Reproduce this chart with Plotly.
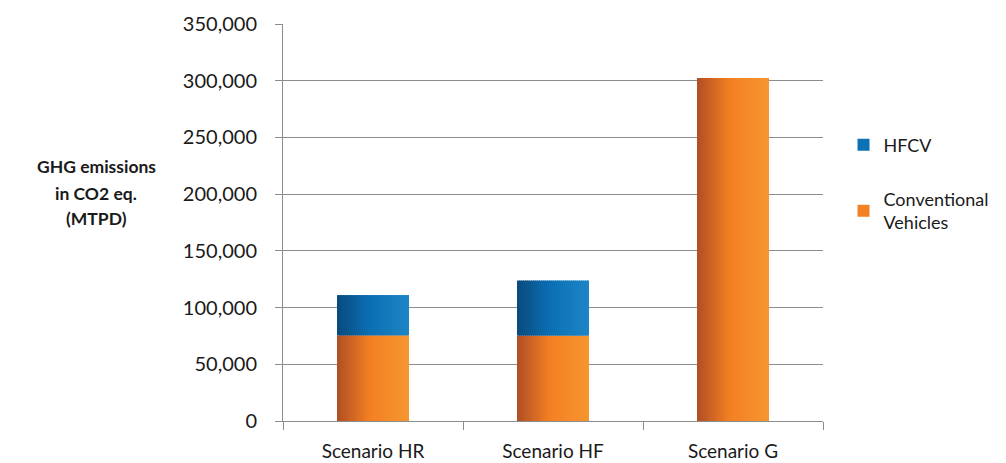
import plotly.graph_objects as go

categories = ["Scenario HR", "Scenario HF", "Scenario G"]
conventional = [75500, 75300, 302500]
hfcv = [35500, 48500, 0]
y_tick_values = [0, 50000, 100000, 150000, 200000, 250000, 300000, 350000]
y_title_lines = ["GHG emissions", "in CO2 eq.", "(MTPD)"]

orange_stops = [(0.0, (176, 78, 37)), (0.45, (243, 127, 34)), (1.0, (246, 150, 47))]
blue_stops = [(0.0, (10, 74, 125)), (0.45, (11, 110, 180)), (1.0, (29, 134, 198))]


def grad(stops, t):
    for (t0, c0), (t1, c1) in zip(stops[:-1], stops[1:]):
        if t0 <= t <= t1:
            f = (t - t0) / (t1 - t0)
            c = [round(a + (b - a) * f) for a, b in zip(c0, c1)]
            return "rgb(%d,%d,%d)" % tuple(c)
    c = stops[-1][1]
    return "rgb(%d,%d,%d)" % c


N = 36
BAR_W = 0.40
step = BAR_W / N
fig = go.Figure()
for series, vals, base, stops, rank in [
    ("Conventional<br>Vehicles", conventional, None, orange_stops, 2),
    ("HFCV", hfcv, conventional, blue_stops, 1),
]:
    for i in range(N):
        t = (i + 0.5) / N
        w = step * 1.6 if i < N - 1 else step
        fig.add_trace(go.Bar(
            x=categories, y=vals, base=base,
            offset=-BAR_W / 2 + i * step, width=w,
            marker=dict(color=grad(stops, t), line=dict(width=0)),
            name=series, legendgroup=series, legendrank=rank,
            showlegend=(i == N // 2), hoverinfo="skip",
        ))

font_family = "Lato, 'Open Sans', Arial, sans-serif"
PLOT_H = 463 - 24 - 42
title_y_px = [167, 193, 219]
annotations = [
    dict(
        text="<b>%s</b>" % line,
        xref="paper", yref="paper", x=-0.346, y=(421 - py) / PLOT_H,
        xanchor="center", yanchor="middle", showarrow=False,
        font=dict(size=17.5, color="#1a1a1a", family=font_family),
    )
    for line, py in zip(y_title_lines, title_y_px)
]

fig.update_layout(
    width=1006, height=463,
    barmode="overlay",
    paper_bgcolor="white", plot_bgcolor="white",
    margin=dict(l=283, r=183, t=24, b=42, autoexpand=False),
    font=dict(family=font_family, size=18, color="#1a1a1a"),
    legend=dict(
        x=1.038, y=0.742, xanchor="left", yanchor="top",
        font=dict(size=18, color="#1a1a1a"),
        tracegroupgap=28, itemwidth=30,
        bgcolor="rgba(0,0,0,0)",
    ),
    xaxis=dict(
        type="category", range=[-0.5, 2.5], automargin=False,
        showline=True, linecolor="#8c8c8c", linewidth=1,
        ticks="outside", tickson="boundaries", ticklen=8, tickcolor="#8c8c8c",
        ticklabelstandoff=13,
        tickfont=dict(size=19, color="#1a1a1a"),
        showgrid=False, zeroline=False,
    ),
    yaxis=dict(
        range=[0, 350000], tickvals=y_tick_values, tickformat=",", automargin=False,
        showline=True, linecolor="#8c8c8c", linewidth=1,
        ticks="outside", ticklen=7, tickcolor="#8c8c8c",
        ticklabelstandoff=14,
        tickfont=dict(size=20, color="#1a1a1a"),
        showgrid=True, gridcolor="#8c8c8c", gridwidth=1,
        zeroline=False,
    ),
    annotations=annotations,
)

fig.write_html(
    "out.html",
    config={"displayModeBar": False},
    post_script="document.body.style.margin='0px';document.body.style.overflow='hidden';",
)
